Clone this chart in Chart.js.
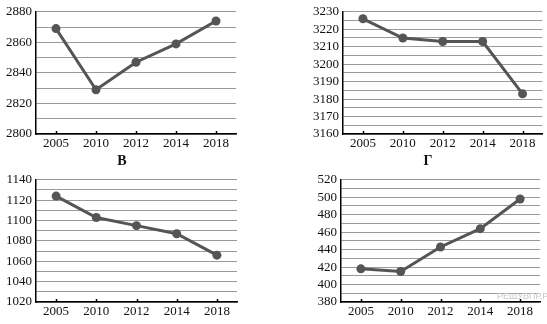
<!DOCTYPE html>
<html>
<head>
<meta charset="utf-8">
<script src="https://cdn.jsdelivr.net/npm/chart.js@4"></script>
<style>
  body { margin: 0; background: #fff; }
  #wrap { position: relative; width: 547px; height: 324px; overflow: hidden; }
  canvas { position: absolute; }
  .lbl { position: absolute; font-family: "Liberation Serif", "DejaVu Serif", serif; font-weight: bold; font-size: 14px; color: #111; transform: translate(-50%, -50%); }
  .wm { position: absolute; font-family: "Liberation Sans", sans-serif; font-size: 9px; color: #c8c8c8; left: 497px; top: 291px; }
</style>
</head>
<body>
<div id="wrap">
  <canvas id="c1"></canvas>
  <canvas id="c2"></canvas>
  <canvas id="c3"></canvas>
  <canvas id="c4"></canvas>
  <div class="lbl" style="left:122px; top:161px;">В</div>
  <div class="lbl" style="left:428px; top:161px;">Г</div>
  <div class="wm">РЕШУВПР.РФ</div>
</div>
<script>
// годы (общие для всех графиков)
const years = ['2005', '2010', '2012', '2014', '2018'];

// значения по каждому графику
const valuesA = [2869, 2829, 2847, 2859, 2874];
const valuesB = [3226, 3215, 3213, 3213, 3183];
const valuesV = [1124, 1103, 1095, 1087, 1066];
const valuesG = [418, 415, 443, 464, 498];

// шкалы: [min, max, шаг сетки, шаг подписей]
const scaleA = [2800, 2880, 10, 20];
const scaleB = [3160, 3230, 5, 10];
const scaleV = [1020, 1140, 10, 20];
const scaleG = [380, 520, 10, 20];

const LINE_COLOR = '#555555';
const X_HEIGHT = 18;

// маленькие засечки внутрь на оси X
const innerTicks = {
    id: 'innerTicks',
    afterDraw(chart) {
        const x = chart.scales.x;
        const ctx = chart.ctx;
        const bottom = chart.chartArea.bottom;
        ctx.save();
        ctx.strokeStyle = '#000';
        ctx.lineWidth = 1.5;
        x.ticks.forEach((t, i) => {
            const px = Math.round(x.getPixelForTick(i)) + 0.5;
            ctx.beginPath();
            ctx.moveTo(px, bottom);
            ctx.lineTo(px, bottom - 3);
            ctx.stroke();
        });
        ctx.restore();
    }
};

function makeChart(id, box, area, values, sc) {
    const canvas = document.getElementById(id);
    canvas.style.left = box.left + 'px';
    canvas.style.top = box.top + 'px';
    canvas.width = box.w;
    canvas.height = box.h;

    const yWidth = area.l - box.left;
    const pad = {
        left: 0,
        top: area.t - box.top,
        right: box.left + box.w - area.r,
        bottom: box.top + box.h - area.b - X_HEIGHT
    };

    return new Chart(canvas.getContext('2d'), {
        type: 'line',
        data: {
            labels: years,
            datasets: [{
                data: values,
                borderColor: LINE_COLOR,
                backgroundColor: LINE_COLOR,
                borderWidth: 3,
                pointRadius: 4.5,
                pointBorderWidth: 0,
                tension: 0
            }]
        },
        options: {
            responsive: false,
            animation: false,
            events: [],
            layout: { padding: pad },
            plugins: { legend: { display: false }, tooltip: { enabled: false } },
            scales: {
                x: {
                    offset: true,
                    grid: { display: true, drawOnChartArea: false, drawTicks: false },
                    border: { display: true, color: '#000', width: 1.5 },
                    ticks: {
                        color: '#111',
                        padding: 2,
                        maxRotation: 0,
                        font: { family: '"Liberation Serif", serif', size: 13 }
                    },
                    afterFit(scale) { scale.height = X_HEIGHT; }
                },
                y: {
                    min: sc[0],
                    max: sc[1],
                    grid: { color: '#9a9a9a', lineWidth: 1, drawTicks: false },
                    border: { display: true, color: '#000', width: 1.5 },
                    ticks: {
                        stepSize: sc[2],
                        autoSkip: false,
                        color: '#111',
                        padding: 4,
                        font: { family: '"Liberation Serif", serif', size: 13 },
                        callback: (v) => (v % sc[3] === 0 ? v : '')
                    },
                    afterFit(scale) { scale.width = yWidth; }
                }
            }
        },
        plugins: [innerTicks]
    });
}

makeChart('c1', { left: 0, top: 0, w: 244, h: 152 }, { l: 36, t: 8, r: 236, b: 134 }, valuesA, scaleA);
makeChart('c2', { left: 300, top: 0, w: 247, h: 152 }, { l: 343, t: 7, r: 544, b: 134 }, valuesB, scaleB);
makeChart('c3', { left: 0, top: 168, w: 244, h: 156 }, { l: 36, t: 176, r: 237, b: 302 }, valuesV, scaleV);
makeChart('c4', { left: 300, top: 168, w: 247, h: 156 }, { l: 341, t: 176, r: 540, b: 302 }, valuesG, scaleG);
</script>
</body>
</html>
